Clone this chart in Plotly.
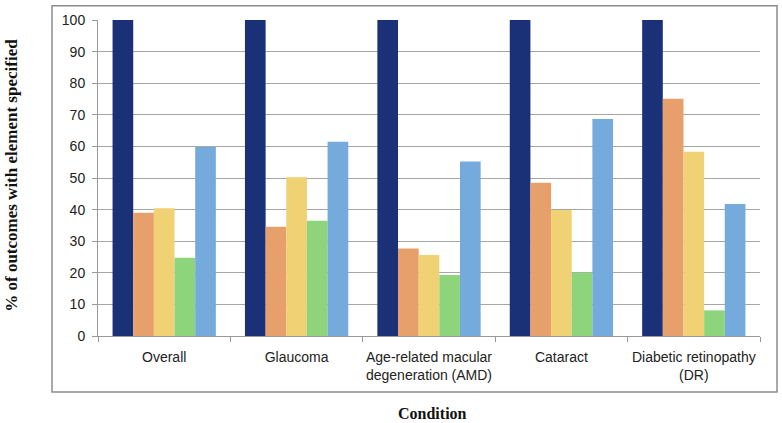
import plotly.graph_objects as go

categories = ["Overall", "Glaucoma", "Age-related macular<br>degeneration (AMD)", "Cataract", "Diabetic retinopathy<br>(DR)"]
series_names = ["Element 1", "Element 2", "Element 3", "Element 4", "Element 5"]
s1 = [100, 100, 100, 100, 100]
s2 = [39.0, 34.6, 27.7, 48.5, 75.1]
s3 = [40.4, 50.2, 25.6, 39.9, 58.3]
s4 = [24.8, 36.5, 19.3, 20.1, 8.1]
s5 = [59.8, 61.5, 55.2, 68.7, 41.8]
colors = ["#1B3177", "#E7A06B", "#F0D173", "#8DD47B", "#74AADC"]
y_ticks = [0, 10, 20, 30, 40, 50, 60, 70, 80, 90, 100]

fig = go.Figure()
for name, vals, col in zip(series_names, [s1, s2, s3, s4, s5], colors):
    fig.add_trace(go.Bar(x=categories, y=vals, name=name, marker=dict(color=col, line=dict(width=0))))

fig.update_layout(
    width=782, height=423,
    margin=dict(l=98, r=22, t=20, b=87, autoexpand=False),
    barmode="group", bargap=0.22, bargroupgap=0,
    showlegend=False,
    plot_bgcolor="white", paper_bgcolor="white",
    font=dict(family="Liberation Sans, Arial, sans-serif", size=14, color="#222"),
)
fig.update_yaxes(
    range=[0, 100], tickvals=y_ticks, showgrid=True, gridcolor="#A6A6A6", gridwidth=1.3,
    showline=True, linecolor="#999", linewidth=1, ticks="outside", ticklen=5, tickcolor="#999",
    zeroline=False, tickfont=dict(size=14), ticklabelstandoff=4,
)
fig.update_xaxes(
    showline=True, linecolor="#999", linewidth=1, ticks="outside", ticklen=5, tickcolor="#999",
    tickson="boundaries", tickfont=dict(size=14), ticklabelstandoff=8, tickangle=0,
)
# outer chart border
fig.add_shape(type="rect", xref="paper", yref="paper", x0=-0.0695, x1=1.0257, y0=-0.177, y1=1.045,
              line=dict(color="#8C8C8C", width=1.5), fillcolor="rgba(0,0,0,0)", layer="above")
fig.add_annotation(text="<b>% of outcomes with element specified</b>", xref="paper", yref="paper",
                   x=-0.13, y=0.51, textangle=-90, showarrow=False, xanchor="center", yanchor="middle",
                   font=dict(family="Liberation Serif, Times New Roman, serif", size=17, color="#111"))
fig.add_annotation(text="<b>Condition</b>", xref="paper", yref="paper", x=0.505, y=-0.244,
                   showarrow=False, xanchor="center", yanchor="middle",
                   font=dict(family="Liberation Serif, Times New Roman, serif", size=16, color="#111"))

fig.write_html("out.html", config={"displayModeBar": False},
               post_script="document.body.style.margin='0';")
